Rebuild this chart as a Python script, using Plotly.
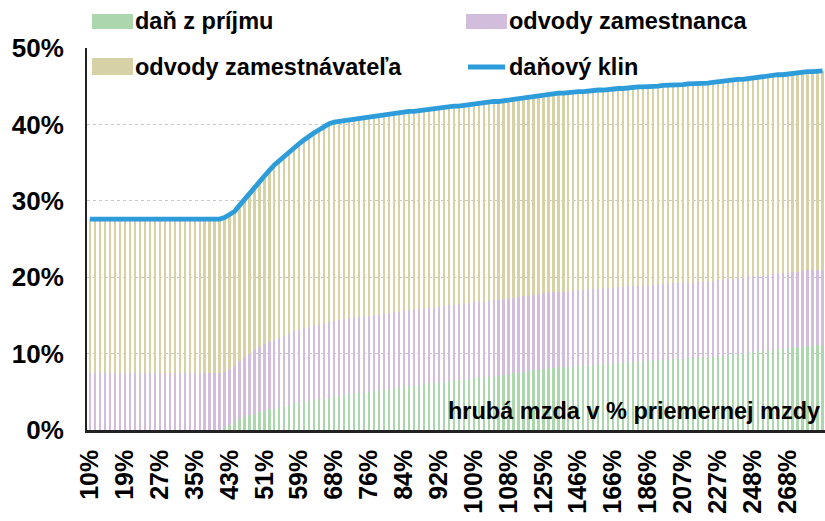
import plotly.graph_objects as go

# ---------------- data ----------------
series_names = ["daň z príjmu", "odvody zamestnanca", "odvody zamestnávateľa", "daňový klin"]
series_colors = ["#acd7ac", "#d3bddc", "#d7d1a6", "#2d9cdb"]

tick_labels = ["10%", "19%", "27%", "35%", "43%", "51%", "59%", "68%", "76%", "84%", "92%",
               "100%", "108%", "125%", "146%", "166%", "186%", "207%", "227%", "248%", "268%"]

dan_z_prijmu = [
    0.0, 0.0, 0.0, 0.0, 0.0, 0.0, 0.0, 0.0, 0.0, 0.0, 0.0, 0.0, 0.0, 0.0,
    0.0, 0.0, 0.0, 0.0, 0.0, 0.0, 0.0, 0.0, 0.0, 0.0, 0.0, 0.0, 0.0,
    0.2, 0.6, 1.0, 1.4, 1.7, 1.9, 2.1, 2.3, 2.5, 2.7, 2.8, 3.0, 3.1, 3.3, 3.5,
    3.6, 3.7, 3.8, 3.9, 4.0, 4.1, 4.2,
    4.4, 4.5, 4.6, 4.7, 4.8, 4.9, 4.9, 5.0, 5.1, 5.2, 5.3, 5.4, 5.5, 5.6,
    5.7, 5.8, 5.8, 5.9, 6.0, 6.1, 6.1, 6.2, 6.3, 6.4, 6.5, 6.5, 6.6, 6.7, 6.8,
    6.9, 6.9, 7.0, 7.1, 7.1, 7.2, 7.3,
    7.4, 7.5, 7.6, 7.7, 7.8, 7.9, 8.0,
    8.1, 8.1, 8.2, 8.2, 8.3, 8.3, 8.4, 8.4, 8.5, 8.5, 8.6,
    8.6, 8.7, 8.7, 8.8, 8.8, 8.9, 8.9, 9.0, 9.0, 9.0, 9.1, 9.1, 9.2, 9.2, 9.3,
    9.3, 9.3, 9.4, 9.4, 9.5, 9.5, 9.5, 9.6,
    9.7, 9.7, 9.8, 9.9, 10.0, 10.0, 10.1, 10.2, 10.3, 10.3, 10.4, 10.5, 10.6,
    10.6, 10.7, 10.8, 10.8, 10.9, 11.0, 11.0, 11.1, 11.1,
]

odvody_zamestnanca = [
    7.4, 7.4, 7.4, 7.4, 7.4, 7.4, 7.4, 7.4, 7.4, 7.4, 7.4, 7.4, 7.4, 7.4, 7.4,
    7.4, 7.4, 7.4, 7.4, 7.4, 7.4, 7.4, 7.4, 7.4, 7.4, 7.4, 7.4, 7.4, 7.4, 7.4,
    7.6, 7.9, 8.1, 8.4, 8.6, 8.8, 8.9, 9.0, 9.1, 9.2, 9.3, 9.4, 9.5, 9.6, 9.7,
    9.7, 9.8, 9.8,
    9.9, 9.9, 9.9, 9.9, 9.9, 9.9, 9.9, 9.9, 9.9, 9.9, 9.9, 9.9, 9.9, 9.9, 9.9,
    9.9, 9.9, 9.9, 9.9, 9.9, 9.9, 9.9, 9.9, 9.9, 9.9, 9.9, 9.9, 9.9, 9.9, 9.9,
    9.9, 9.9, 9.9, 9.9, 9.9, 9.9, 9.9, 9.9, 9.9, 9.9, 9.9, 9.9, 9.9, 9.9, 9.9,
    9.9, 9.9, 9.9, 9.9, 9.9, 9.9, 9.9, 9.9, 9.9, 9.9, 9.9, 9.9, 9.9, 9.9, 9.9,
    9.9, 9.9, 9.9, 9.9, 9.9, 9.9, 9.9, 9.9, 9.9, 9.9, 9.9, 9.9, 9.9, 9.9, 9.9,
    9.9, 9.9, 9.9, 9.9, 9.9, 9.9, 9.9, 9.9, 9.9, 9.9, 9.9, 9.9, 9.9, 9.9, 9.9,
    9.9, 9.9, 9.9, 9.9, 9.9, 9.9, 9.9, 9.9, 9.9, 9.9,
]

odvody_zamestnavatela = [
    20.2, 20.2, 20.2, 20.2, 20.2, 20.2, 20.2, 20.2, 20.2, 20.2, 20.2, 20.2, 20.2, 20.2, 20.2,
    20.2, 20.2, 20.2, 20.2, 20.2, 20.2, 20.2, 20.2, 20.2, 20.2, 20.2, 20.2, 20.2, 20.2, 20.2,
    20.4, 20.6, 20.9, 21.2, 21.6, 22.0, 22.4, 22.9, 23.2, 23.6, 23.9, 24.1, 24.4, 24.7, 25.0,
    25.3, 25.5, 25.8,
    26.0, 26.0, 26.0, 26.0, 26.0, 26.0, 26.0, 26.0, 26.0, 26.0, 26.0, 26.0, 26.0, 26.0, 26.0,
    26.0, 26.0, 26.0, 26.0, 26.0, 26.0, 26.0, 26.0, 26.0, 26.0, 26.0, 26.0, 26.0, 26.0, 26.0,
    26.0, 26.0, 26.0, 26.0, 26.0, 26.0, 26.0, 26.0, 26.0, 26.0, 26.0, 26.0, 26.0, 26.0, 26.0,
    26.0, 26.0, 26.0, 26.0, 26.0, 26.0, 26.0, 26.0, 26.0, 26.0, 26.0, 26.0, 26.0, 26.0, 26.0,
    26.0, 26.0, 26.0, 26.0, 26.0, 26.0, 26.0, 26.0, 26.0, 26.0, 26.0, 26.0, 26.0, 26.0, 26.0,
    26.0, 26.0, 26.0, 26.0, 26.0, 26.0, 26.0, 26.0, 26.0, 26.0, 26.0, 26.0, 26.0, 26.0, 26.0,
    26.0, 26.0, 26.0, 26.0, 26.0, 26.0, 26.0, 26.0, 26.0, 26.0,
]

x_title = "hrubá mzda v % priemernej mzdy"
y_ticks = [0, 10, 20, 30, 40, 50]
y_tick_labels = ["0%", "10%", "20%", "30%", "40%", "50%"]

# ---------------- figure ----------------
n = len(dan_z_prijmu)
x_idx = list(range(n))
danovy_klin = [round(a + b + c, 2) for a, b, c in zip(dan_z_prijmu, odvody_zamestnanca, odvody_zamestnavatela)]
tick_step = 7
tick_vals = [i * tick_step for i in range(len(tick_labels))]

FONT = "Liberation Sans, Arial, sans-serif"

fig = go.Figure()
for vals, name, col in zip([dan_z_prijmu, odvody_zamestnanca, odvody_zamestnavatela],
                           series_names[:3], series_colors[:3]):
    fig.add_trace(go.Bar(x=x_idx, y=vals, name=name, marker=dict(color=col, line=dict(width=0)),
                         showlegend=False))
fig.add_trace(go.Scatter(x=x_idx, y=danovy_klin, name=series_names[3], mode="lines",
                         line=dict(color=series_colors[3], width=4.8), showlegend=False))

L, R, T, B = 87, 0, 48, 91
W, H = 825, 521
pw, ph = W - L - R, H - T - B


def px(xp):
    return (xp - L) / pw


def py(yp):
    return (H - B - yp) / ph


# manual legend
legend_items = [
    (series_names[0], series_colors[0], 92, 14, 29, "rect"),
    (series_names[1], series_colors[1], 466, 14, 29, "rect"),
    (series_names[2], series_colors[2], 92, 58, 75, "rect"),
    (series_names[3], series_colors[3], 466, 64, 70, "line"),
]
shapes = []
annotations = []
for name, col, x0, y0, y1, kind in legend_items:
    if kind == "rect":
        shapes.append(dict(type="rect", xref="paper", yref="paper", x0=px(x0), x1=px(x0 + 41),
                           y0=py(y1), y1=py(y0), fillcolor=col, line=dict(width=0), layer="above"))
    else:
        ym = py((y0 + y1) / 2)
        shapes.append(dict(type="line", xref="paper", yref="paper", x0=px(x0 + 2), x1=px(x0 + 39),
                           y0=ym, y1=ym, line=dict(color=col, width=4.8), layer="above"))
    annotations.append(dict(text=name, xref="paper", yref="paper", x=px(x0 + 41), y=py((y0 + y1) / 2),
                            xanchor="left", yanchor="middle", showarrow=False,
                            font=dict(family=FONT, size=23.5, color="#000", weight="bold")))

annotations.append(dict(text=x_title, xref="paper", yref="paper", x=px(822), y=py(411),
                        xanchor="right", yanchor="middle", showarrow=False,
                        font=dict(family=FONT, size=23.5, color="#000", weight="bold")))

fig.update_layout(
    width=W, height=H,
    margin=dict(l=L, r=R, t=T, b=B, pad=0),
    paper_bgcolor="white", plot_bgcolor="white",
    barmode="stack", bargap=0.55,
    showlegend=False,
    shapes=shapes, annotations=annotations,
)
fig.update_xaxes(
    range=[-0.6, n - 0.5], tickvals=tick_vals, ticktext=tick_labels, tickangle=-90,
    tickfont=dict(family=FONT, size=25, color="#000", weight="bold"),
    showgrid=False, zeroline=False, showline=True, linecolor="#222", linewidth=2.5,
    ticks="", ticklabelstandoff=7, automargin=False,
)
fig.update_yaxes(
    range=[0, 50], tickvals=y_ticks, ticktext=y_tick_labels,
    tickfont=dict(family=FONT, size=26, color="#000", weight="bold"),
    showgrid=True, gridcolor="#c8c8c8", griddash="dot", gridwidth=1,
    zeroline=False, showline=True, linecolor="#222", linewidth=2,
    ticks="", ticklabelstandoff=16, automargin=False,
)

fig.write_html("out.html", config={"displayModeBar": False},
               post_script="document.body.style.margin='0';document.body.style.overflow='hidden';")
